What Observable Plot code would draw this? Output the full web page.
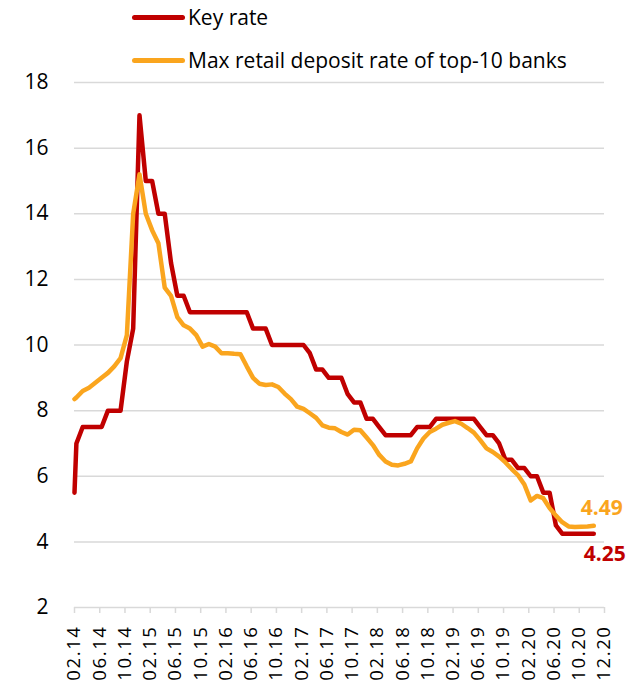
<!DOCTYPE html>
<html><head><meta charset="utf-8">
<script src="https://cdn.jsdelivr.net/npm/d3@7"></script>
<script src="https://cdn.jsdelivr.net/npm/@observablehq/plot@0.6"></script>
<style>
body{margin:0;background:#fff;font-family:"Open Sans",sans-serif;}
#legend{position:relative;height:70px;width:643px;}
.item{position:absolute;left:132px;display:flex;align-items:center;font-size:21px;color:#000;line-height:26px;transform:translateY(-50%);}
.sw{width:53px;height:5px;border-radius:3px;margin-right:3px;}
#chart svg{display:block;}
#chart svg g[aria-label="x-axis tick label"] text{letter-spacing:1.6px;}
</style></head><body>
<div id="legend"></div>
<div id="chart"></div>
<script>
const seriesNames = ["Key rate", "Max retail deposit rate of top-10 banks"];
const seriesColors = ["#C00000", "#FAA51E"];
const tickLabels = ["02.14","06.14","10.14","02.15","06.15","10.15","02.16","06.16","10.16","02.17","06.17","10.17","02.18","06.18","10.18","02.19","06.19","10.19","02.20","06.20","10.20","12.20"];
const yTicks = [2, 4, 6, 8, 10, 12, 14, 16, 18];

// start of series + monthly observations
const keyRate = [5.5, 7, 7.5, 7.5, 7.5, 7.5, 8, 8, 8, 9.5, 10.5,
  17, 15, 15, 14, 14, 12.5, 11.5, 11.5,
  11, 11, 11, 11, 11, 11, 11, 11, 11, 11,
  10.5, 10.5, 10.5,
  10, 10, 10, 10, 10, 10,
  9.75, 9.25, 9.25,
  9, 9, 9,
  8.5, 8.25, 8.25,
  7.75, 7.75,
  7.5,
  7.25, 7.25, 7.25, 7.25, 7.25,
  7.5, 7.5, 7.5,
  7.75, 7.75, 7.75, 7.75, 7.75, 7.75, 7.75,
  7.5, 7.25, 7.25,
  7, 6.5, 6.5, 6.25, 6.25, 6, 6, 5.5, 5.5,
  4.5,
  4.25, 4.25, 4.25, 4.25, 4.25, 4.25];

const depositRate = [8.35, 8.4, 8.6, 8.7, 8.85, 9.0, 9.15, 9.35, 9.6, 10.3, 14.0,
  15.2, 14.0, 13.5, 13.1, 11.75, 11.5, 10.85, 10.6,
  10.5, 10.3, 9.95, 10.03, 9.95, 9.75, 9.75, 9.73, 9.72, 9.35,
  9.0, 8.82, 8.78,
  8.8, 8.72, 8.52, 8.35, 8.12, 8.05,
  7.92, 7.78, 7.55,
  7.48, 7.46, 7.35,
  7.27, 7.42, 7.4,
  7.18, 6.95,
  6.65,
  6.45, 6.35, 6.33, 6.38, 6.45,
  6.85, 7.15, 7.35,
  7.45, 7.57, 7.63, 7.68, 7.6, 7.47, 7.33,
  7.1, 6.85, 6.74,
  6.6, 6.42, 6.22, 6.03, 5.75, 5.26, 5.4, 5.33, 5.03,
  4.8,
  4.6, 4.47, 4.45, 4.46, 4.47, 4.49];

// x positions: months since Feb 2014 (series start, then monthly points)
const monthPos = [0, ...d3.range(83).map(k => k + 0.3)];
const tickPos = tickLabels.map((_, i) => i * 4);

const seriesValues = [keyRate, depositRate];
const rows = seriesValues.flatMap((vals, si) => vals.map((v, i) => ({m: monthPos[i], v, s: seriesNames[si]})));
const lastRows = seriesValues.map((vals, si) => ({m: monthPos[vals.length - 1], v: vals[vals.length - 1], s: seriesNames[si], label: vals[vals.length - 1].toFixed(2)}));

// legend
const legend = document.getElementById("legend");
const legendY = [17, 60];
seriesNames.forEach((n, i) => {
  const it = document.createElement("div");
  it.className = "item";
  it.style.top = legendY[i] + "px";
  const sw = document.createElement("span");
  sw.className = "sw";
  sw.style.background = seriesColors[i];
  const tx = document.createElement("span");
  tx.textContent = n;
  it.appendChild(sw); it.appendChild(tx);
  legend.appendChild(it);
});

const chart = Plot.plot({
  width: 643, height: 616,
  marginTop: 12, marginBottom: 79, marginLeft: 74, marginRight: 39,
  style: {fontFamily: "Open Sans", background: "#fff", overflow: "visible", color: "#000"},
  x: {domain: [0, 84]},
  y: {domain: [2, 18]},
  color: {domain: seriesNames, range: seriesColors},
  marks: [
    Plot.gridY(yTicks.filter(t => t > 2), {stroke: "#d9d9d9", strokeOpacity: 1, strokeWidth: 1.5}),
    Plot.ruleY([2], {stroke: "#d9d9d9", strokeWidth: 1.5}),
    Plot.axisY({ticks: yTicks, tickSize: 0, tickPadding: 26, fontSize: 21, label: null}),
    Plot.axisX({ticks: tickPos, tickSize: 6, tickPadding: 12, tickRotate: -90, fontSize: 18.5, label: null,
      stroke: "#d9d9d9", strokeWidth: 1.5, tickFormat: d => tickLabels[tickPos.indexOf(d)]}),
    Plot.line(rows, {x: "m", y: "v", z: "s", stroke: "s", strokeWidth: 4.5, strokeLinejoin: "round"}),
    Plot.text(lastRows.filter(d => d.s === seriesNames[1]), {x: "m", y: "v", text: "label", fill: seriesColors[1], fontWeight: "bold", fontSize: 21, dx: 8, dy: -18}),
    Plot.text(lastRows.filter(d => d.s === seriesNames[0]), {x: "m", y: "v", text: "label", fill: seriesColors[0], fontWeight: "bold", fontSize: 21, dx: 11, dy: 21})
  ]
});
document.getElementById("chart").appendChild(chart);
</script>
</body></html>
